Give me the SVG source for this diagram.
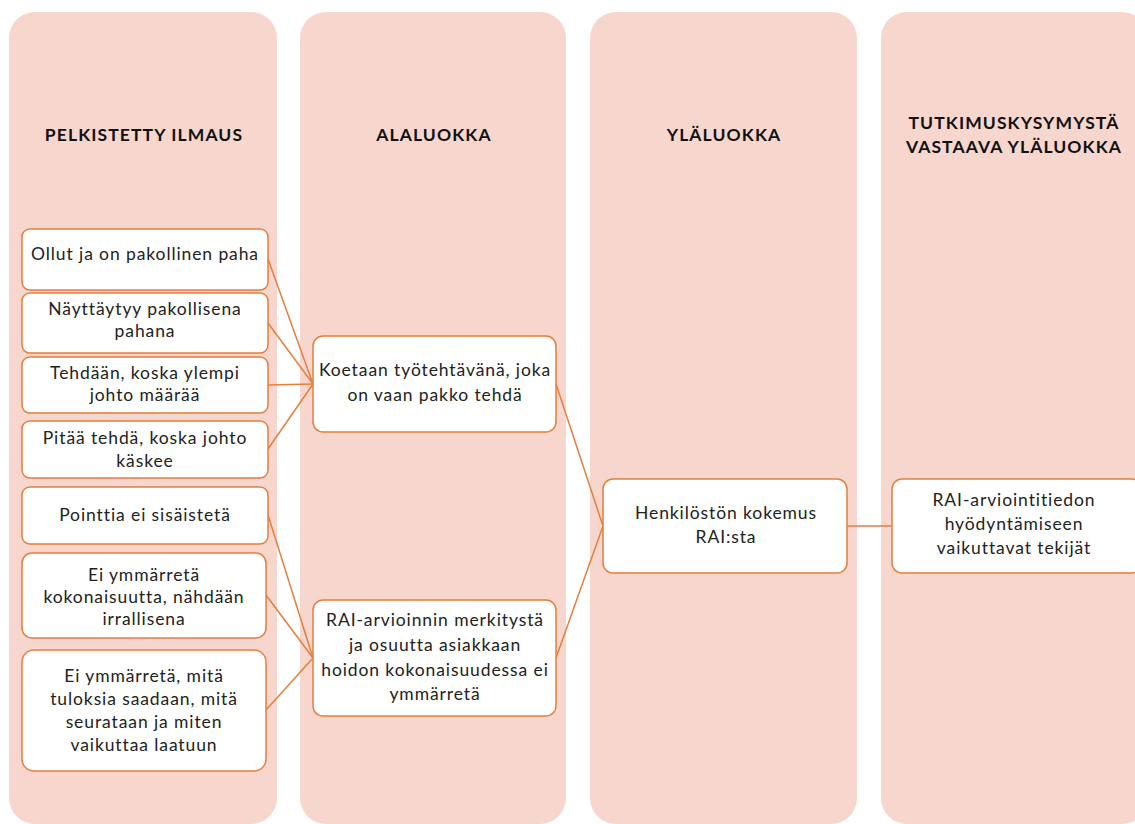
<svg xmlns="http://www.w3.org/2000/svg" width="1135" height="824" viewBox="0 0 1135 824">
<style>
.col{fill:#F7D7CD;}
.box{fill:#FFFFFF;stroke:#E57E3D;stroke-width:1.5;}
.hd{font-family:Lato,"Liberation Sans",sans-serif;font-weight:bold;font-size:17.5px;letter-spacing:1.1px;fill:#111111;text-anchor:middle;}
.tx{font-family:Lato,"Liberation Sans",sans-serif;font-size:17.5px;letter-spacing:0.9px;fill:#222222;text-anchor:middle;}
.cn{stroke:#E57E3D;stroke-width:1.5;fill:none;}
</style>
<rect width="1135" height="824" fill="#FFFFFF"/>
<g id="columns">
<rect class="col" x="9" y="12" width="268" height="812" rx="26"/>
<rect class="col" x="300" y="12" width="266" height="812" rx="26"/>
<rect class="col" x="590" y="12" width="267" height="812" rx="26"/>
<rect class="col" x="881" y="12" width="267" height="812" rx="26"/>
</g>
<g id="headers">
<text class="hd" x="144" y="141">PELKISTETTY ILMAUS</text>
<text class="hd" x="434" y="141">ALALUOKKA</text>
<text class="hd" x="724" y="141">YLÄLUOKKA</text>
<text class="hd" x="1014" y="129">TUTKIMUSKYSYMYSTÄ</text>
<text class="hd" x="1014" y="153">VASTAAVA YLÄLUOKKA</text>
</g>
<g id="connectors">
<line class="cn" x1="268" y1="259" x2="313" y2="384"/>
<line class="cn" x1="268" y1="323" x2="313" y2="384"/>
<line class="cn" x1="268" y1="385" x2="313" y2="384"/>
<line class="cn" x1="268" y1="449" x2="313" y2="384"/>
<line class="cn" x1="268" y1="515" x2="313" y2="658"/>
<line class="cn" x1="266" y1="595" x2="313" y2="658"/>
<line class="cn" x1="266" y1="710" x2="313" y2="658"/>
<line class="cn" x1="556" y1="384" x2="603" y2="526"/>
<line class="cn" x1="556" y1="658" x2="603" y2="526"/>
<line class="cn" x1="847" y1="526" x2="892" y2="526"/>
</g>
<g id="n1"><rect class="box" x="22" y="229" width="246" height="61" rx="8"/><text class="tx" x="145" y="260">Ollut ja on pakollinen paha</text></g>
<g id="n2"><rect class="box" x="22" y="293" width="246" height="60" rx="8"/><text class="tx" x="145" y="315">Näyttäytyy pakollisena</text><text class="tx" x="145" y="337">pahana</text></g>
<g id="n3"><rect class="box" x="22" y="357" width="246" height="56" rx="8"/><text class="tx" x="145" y="379">Tehdään, koska ylempi</text><text class="tx" x="145" y="401">johto määrää</text></g>
<g id="n4"><rect class="box" x="22" y="421" width="246" height="57" rx="8"/><text class="tx" x="145" y="444">Pitää tehdä, koska johto</text><text class="tx" x="145" y="467">käskee</text></g>
<g id="n5"><rect class="box" x="22" y="487" width="246" height="57" rx="8"/><text class="tx" x="145" y="521">Pointtia ei sisäistetä</text></g>
<g id="n6"><rect class="box" x="22" y="553" width="244" height="85" rx="10"/><text class="tx" x="144" y="581">Ei ymmärretä</text><text class="tx" x="144" y="603">kokonaisuutta, nähdään</text><text class="tx" x="144" y="625">irrallisena</text></g>
<g id="n7"><rect class="box" x="22" y="650" width="244" height="121" rx="12"/><text class="tx" x="144" y="682">Ei ymmärretä, mitä</text><text class="tx" x="144" y="705">tuloksia saadaan, mitä</text><text class="tx" x="144" y="728">seurataan ja miten</text><text class="tx" x="144" y="751">vaikuttaa laatuun</text></g>
<g id="nA"><rect class="box" x="313" y="336" width="243" height="96" rx="10"/><text class="tx" x="435" y="376">Koetaan työtehtävänä, joka</text><text class="tx" x="435" y="401">on vaan pakko tehdä</text></g>
<g id="nB"><rect class="box" x="313" y="600" width="243" height="116" rx="10"/><text class="tx" x="435" y="626">RAI-arvioinnin merkitystä</text><text class="tx" x="435" y="651">ja osuutta asiakkaan</text><text class="tx" x="435" y="676">hoidon kokonaisuudessa ei</text><text class="tx" x="435" y="700">ymmärretä</text></g>
<g id="nC"><rect class="box" x="603" y="479" width="244" height="94" rx="10"/><text class="tx" x="726" y="519">Henkilöstön kokemus</text><text class="tx" x="726" y="543">RAI:sta</text></g>
<g id="nD"><rect class="box" x="892" y="479" width="250" height="94" rx="10"/><text class="tx" x="1014" y="506">RAI-arviointitiedon</text><text class="tx" x="1014" y="530">hyödyntämiseen</text><text class="tx" x="1014" y="554">vaikuttavat tekijät</text></g>
</svg>
